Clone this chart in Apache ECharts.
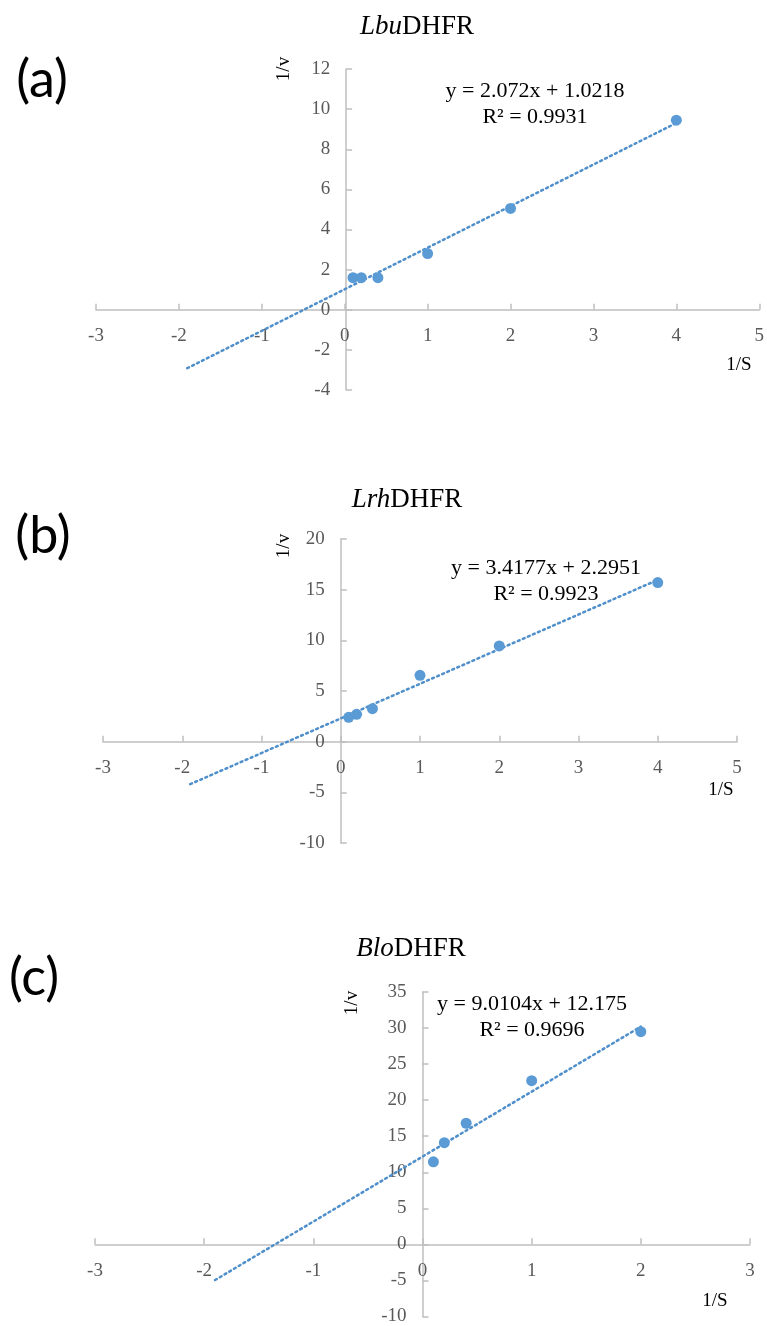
<!DOCTYPE html>
<html>
  <head>
    <meta http-equiv="Content-Type" content="text/html; charset=UTF-8">
    <title>Lineweaver-Burk plots</title>
    <style type="text/css">
      body {
        margin: 0;
        padding: 0;
        background-color: white;
      }
      #main {
        width: 767px;
        height: 1326px;
      }
    </style>
  </head>
  <body>
    <div id="main"></div>
    <script src="https://cdn.jsdelivr.net/npm/echarts@6/dist/echarts.min.js" type="text/javascript" charset="utf-8"></script>
    <script type="text/javascript">
        // data
        var invS_a = [0.1, 0.2, 0.4, 1, 2, 4];
        var invV_a = [1.6, 1.6, 1.6, 2.8, 5.05, 9.45];
        var invS_b = [0.1, 0.2, 0.4, 1, 2, 4];
        var invV_b = [2.4, 2.7, 3.25, 6.55, 9.45, 15.7];
        var invS_c = [0.1, 0.2, 0.4, 1, 2];
        var invV_c = [11.45, 14.1, 16.8, 22.7, 29.5];

        // Excel linear trendlines (forecast backward to -1.9)
        var slopes = [2.072, 3.4177, 9.0104];
        var intercepts = [1.0218, 2.2951, 12.175];
        var rSquared = ['0.9931', '0.9923', '0.9696'];
        var trendStart = [-1.9, -1.9, -1.9];
        var trendEnd = [4, 4, 2];

        var enzymes = ['Lbu', 'Lrh', 'Blo'];
        var tags = ['(a)', '(b)', '(c)'];

        // axis ranges
        var xMin = [-3, -3, -3], xMax = [5, 5, 3];
        var yMin = [-4, -10, -10], yMax = [12, 20, 35], yStep = [2, 5, 5];

        var xs = [invS_a, invS_b, invS_c];
        var ys = [invV_a, invV_b, invV_c];

        // layout of each panel
        var W = 767;
        var panels = [
            { grid: { left: 96, right: 4, top: 69, height: 321 }, title: [417, 27], tag: [42, 80], eq: [535, 104], yName: [284, 69], xName: [739, 365] },
            { grid: { left: 103, right: 30, top: 539, height: 304 }, title: [407, 500], tag: [43, 536], eq: [546, 581], yName: [284, 546], xName: [721, 790] },
            { grid: { left: 95, right: 17, top: 992, height: 325 }, title: [411, 949], tag: [34, 978], eq: [532, 1017], yName: [352, 1003], xName: [715, 1301] }
        ];

        var serif = '"Liberation Serif", "Times New Roman", serif';
        var blue = '#5B9BD5';
        var axisGray = '#BFBFBF';
        var labelGray = '#595959';

        var grids = [], xAxes = [], yAxes = [], series = [], graphics = [];

        panels.forEach(function (p, i) {
            grids.push(p.grid);
            var gw = W - p.grid.left - p.grid.right;
            var gh = p.grid.height;
            // axes cross at the origin: shift them in from the grid edges
            var xOff = -(0 - yMin[i]) / (yMax[i] - yMin[i]) * gh;
            var yOff = -(0 - xMin[i]) / (xMax[i] - xMin[i]) * gw;

            xAxes.push({
                type: 'value', gridIndex: i, min: xMin[i], max: xMax[i], interval: 1,
                position: 'bottom', offset: xOff,
                axisLine: { onZero: false, lineStyle: { color: axisGray, width: 1.5 } },
                axisTick: { show: true, inside: true, length: 6, lineStyle: { color: axisGray, width: 1.5 } },
                axisLabel: { margin: 17, fontFamily: serif, fontSize: 19, color: labelGray, showMinLabel: true, showMaxLabel: true },
                splitLine: { show: false }
            });
            yAxes.push({
                type: 'value', gridIndex: i, min: yMin[i], max: yMax[i], interval: yStep[i],
                position: 'left', offset: yOff,
                axisLine: { show: true, onZero: false, lineStyle: { color: axisGray, width: 1.5 } },
                axisTick: { show: true, inside: true, length: 6, lineStyle: { color: axisGray, width: 1.5 } },
                axisLabel: { margin: 16, fontFamily: serif, fontSize: 19, color: labelGray, showMinLabel: true, showMaxLabel: true },
                splitLine: { show: false }
            });

            var pts = xs[i].map(function (x, k) { return [x, ys[i][k]]; });
            var trend = [trendStart[i], trendEnd[i]].map(function (x) {
                return [x, slopes[i] * x + intercepts[i]];
            });

            series.push({
                type: 'line', xAxisIndex: i, yAxisIndex: i, data: trend,
                symbol: 'none', silent: true, z: 1,
                lineStyle: { color: '#4F8FCB', width: 2.5, type: [2, 3.5], cap: 'round' }
            });
            series.push({
                type: 'scatter', xAxisIndex: i, yAxisIndex: i, data: pts,
                symbolSize: 11, z: 2,
                itemStyle: { color: blue, opacity: 1 }
            });

            graphics.push({
                type: 'text', x: p.title[0], y: p.title[1],
                style: {
                    text: '{i|' + enzymes[i] + '}DHFR',
                    fontFamily: serif, fontSize: 27, fill: '#000',
                    align: 'center', verticalAlign: 'middle',
                    rich: { i: { fontFamily: serif, fontSize: 27, fontStyle: 'italic', fill: '#000' } }
                }
            });
            graphics.push({
                type: 'text', x: p.tag[0], y: p.tag[1],
                style: { text: tags[i], fontFamily: 'Lato, "Open Sans", sans-serif', fontSize: 52, fill: '#000', align: 'center', verticalAlign: 'middle' }
            });
            graphics.push({
                type: 'text', x: p.eq[0], y: p.eq[1],
                style: {
                    text: 'y = ' + slopes[i] + 'x + ' + intercepts[i] + '\nR\u00b2 = ' + rSquared[i],
                    fontFamily: serif, fontSize: 22, fill: '#000', lineHeight: 26,
                    align: 'center', verticalAlign: 'middle'
                }
            });
            graphics.push({
                type: 'text', x: p.yName[0], y: p.yName[1], rotation: Math.PI / 2,
                style: { text: '1/v', fontFamily: serif, fontSize: 19, fill: '#000', align: 'center', verticalAlign: 'middle' }
            });
            graphics.push({
                type: 'text', x: p.xName[0], y: p.xName[1],
                style: { text: '1/S', fontFamily: serif, fontSize: 19, fill: '#000', align: 'center', verticalAlign: 'middle' }
            });
        });

        var myChart = echarts.init(document.getElementById('main'));
        myChart.setOption({
            backgroundColor: 'white',
            animation: false,
            grid: grids,
            xAxis: xAxes,
            yAxis: yAxes,
            series: series,
            graphic: graphics
        });
    </script>
  </body>
</html>
